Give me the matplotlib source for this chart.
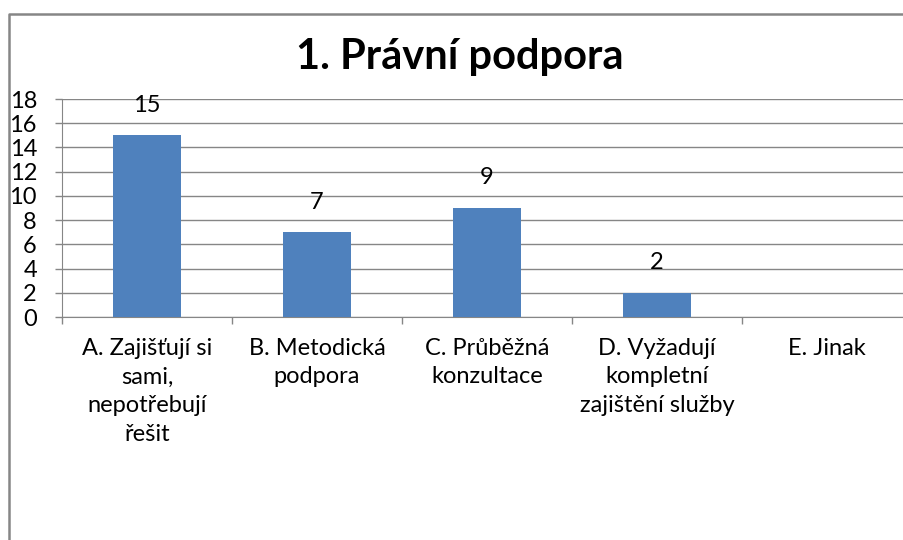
import matplotlib.pyplot as plt
from matplotlib.lines import Line2D

categories = [
    "A. Zajišťují si\nsami,\nnepotřebují\nřešit",
    "B. Metodická\npodpora",
    "C. Průběžná\nkonzultace",
    "D. Vyžadují\nkompletní\nzajištění služby",
    "E. Jinak",
]
values = [15, 7, 9, 2, 0]
value_labels = ["15", "7", "9", "2", ""]
yticks = [0, 2, 4, 6, 8, 10, 12, 14, 16, 18]

plt.rcParams["font.family"] = ["Lato", "DejaVu Sans"]

fig = plt.figure(figsize=(9.04, 5.40), dpi=100)

# rámeček grafu (levá a horní hrana)
fx, fy = 9 / 904, 1 - 14 / 540
fig.add_artist(Line2D([fx, fx, 1.05], [-0.05, fy, fy], transform=fig.transFigure,
                      color="#868686", linewidth=1.8))

fig.text(460 / 904, 1 - 57 / 540, "1. Právní podpora", ha="center", va="center",
         fontsize=30, fontweight="bold", color="black")

ax = fig.add_axes([62 / 904, 1 - 317 / 540, 850 / 904, 218 / 540])
x = range(len(values))
ax.bar(x, values, width=0.4, color="#4F81BD", zorder=3)
for xi, v, lab in zip(x, values, value_labels):
    ax.annotate(lab, (xi, v), xytext=(0, 30), textcoords="offset pixels",
                ha="center", va="center", fontsize=17, color="black")

ax.set_xlim(-0.5, len(values) - 0.5)
ax.set_ylim(0, 18)
ax.set_yticks(yticks)
ax.tick_params(axis="y", labelsize=17, length=5, width=1, color="#868686", pad=13)
ax.set_xticks([i + 0.5 for i in range(-1, len(values))], minor=False)
ax.set_xticklabels([])
ax.tick_params(axis="x", length=5, width=1, color="#868686")
ax.set_xticks(list(x), minor=True)
ax.set_xticklabels(categories, minor=True, fontsize=17, linespacing=1.45, va="top")
ax.tick_params(axis="x", which="minor", length=0, pad=15)
ax.grid(axis="y", color="#868686", linewidth=1, zorder=0)
for s in ["top", "right"]:
    ax.spines[s].set_visible(False)
for s in ["left", "bottom"]:
    ax.spines[s].set_color("#868686")

fig.savefig("out.png", dpi=100)
